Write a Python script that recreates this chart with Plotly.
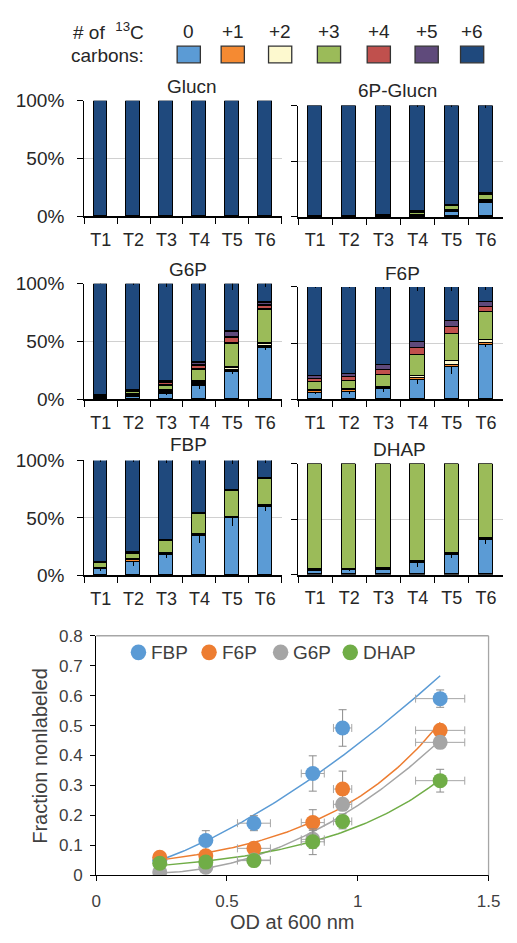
import numpy as np
import plotly.graph_objects as go

W, H = 517, 943
FONT = "Liberation Sans, Arial, sans-serif"

# ---- shared data ----
times = ["T1", "T2", "T3", "T4", "T5", "T6"]
iso_labels = ["0", "+1", "+2", "+3", "+4", "+5", "+6"]
iso_colors = ["#5B9BD5", "#F58A32", "#FDF9CF", "#9BBB59", "#C0504D", "#5F4A7B", "#1F497D"]
pct_ticks = ["0%", "50%", "100%"]

# optical density at each sampling time (mean and spread)
od600 = [0.243, 0.419, 0.603, 0.828, 0.942, 1.315]
od600_err = [0.010, 0.020, 0.063, 0.044, 0.035, 0.094]

# unlabeled (M+0) percentage per metabolite and its spread
fbp_m0 = [5.0, 11.6, 17.4, 34.0, 49.2, 59.0]
f6p_m0 = [6.0, 6.5, 9.0, 17.6, 28.8, 48.4]
g6p_m0 = [1.1, 2.7, 5.1, 12.0, 23.7, 44.4]
dhap_m0 = [4.0, 4.4, 4.9, 11.2, 18.0, 31.6]
fbp_m0_err = [1.0, 3.3, 2.5, 5.9, 6.1, 2.9]
f6p_m0_err = [1.0, 1.5, 2.0, 4.3, 6.0, 2.0]
g6p_m0_err = [1.0, 1.0, 1.5, 3.0, 2.0, 2.0]
dhap_m0_err = [0.5, 1.0, 1.0, 4.3, 2.5, 3.8]

# isotopologue distributions (percent), rows: M+0 ... M+6
glucn_dist = [
    [0, 0, 0, 0, 0, 0],
    [0, 0, 0, 0, 0, 0],
    [0, 0, 0, 0, 0, 0],
    [0, 0, 0, 0, 0, 0],
    [0, 0, 0, 0, 0, 0],
    [0, 0, 0, 0, 0, 0],
    [100, 100, 100, 100, 100, 100],
]
glucn6p_dist = [
    [0, 0, 0.5, 1.0, 4.5, 13.0],
    [0, 0, 0.2, 0.3, 0.5, 0.8],
    [0, 0, 0.2, 0.3, 0.5, 1.2],
    [0, 0, 0.5, 2.5, 4.5, 5.0],
    [0, 0, 0, 0.2, 0.3, 0.5],
    [0, 0, 0, 0.2, 0.2, 0.5],
    [100, 100, 98.6, 95.5, 89.5, 79.0],
]
g6p_dist = [
    g6p_m0,
    [0.3, 0.5, 1.0, 1.5, 1.5, 1.5],
    [0.3, 0.5, 1.5, 2.0, 2.0, 2.5],
    [1.0, 2.5, 4.5, 10.5, 21.0, 29.0],
    [0.4, 0.5, 2.0, 3.0, 5.0, 4.0],
    [0.4, 0.5, 1.5, 3.0, 5.0, 2.5],
    [96.5, 92.8, 84.4, 68.0, 41.8, 16.1],
]
f6p_dist = [
    f6p_m0,
    [1.5, 1.5, 1.5, 1.5, 2.0, 1.5],
    [1.0, 1.5, 1.0, 2.0, 3.0, 3.0],
    [7.0, 7.0, 10.5, 18.5, 24.0, 25.0],
    [3.0, 3.5, 4.0, 6.0, 6.5, 4.5],
    [2.0, 3.0, 5.0, 5.5, 5.5, 4.0],
    [79.5, 77.0, 69.0, 48.9, 30.2, 13.6],
]
fbp_dist = [
    fbp_m0,
    [0.5, 1.0, 1.0, 1.0, 1.0, 1.0],
    [0.5, 1.0, 0.5, 0.5, 0.5, 0.5],
    [4.5, 5.0, 10.5, 17.5, 22.0, 23.0],
    [0.5, 0.5, 0.5, 0.5, 0.5, 0.5],
    [0.5, 0.5, 0.3, 0.3, 0.3, 0.3],
    [88.5, 80.4, 69.8, 46.2, 26.5, 15.7],
]
dhap_dist = [
    dhap_m0,
    [0.3, 0.3, 0.3, 0.3, 0.3, 0.3],
    [0.3, 0.3, 0.3, 0.3, 0.3, 0.3],
    [95.4, 95.0, 94.5, 88.2, 81.4, 67.8],
    [0, 0, 0, 0, 0, 0],
    [0, 0, 0, 0, 0, 0],
    [0, 0, 0, 0, 0, 0],
]
# spread of the fully labeled (M+6) fraction
glucn6p_m6_err = [0, 0, 0.5, 1.0, 1.5, 2.0]
g6p_m6_err = [0.5, 1.0, 3.0, 5.0, 5.0, 3.0]
f6p_m6_err = [1.0, 1.0, 2.0, 4.0, 4.0, 3.0]
fbp_m6_err = [1.0, 1.5, 2.0, 3.0, 3.5, 2.0]

panels = [
    # name, distribution, M0 err, M6 err, x0, x1, y(100%), y(0%) in px
    ("Glucn", glucn_dist, None, None, 82, 286, 92.7, 211.0),
    ("6P-Glucn", glucn6p_dist, None, glucn6p_m6_err, 303, 515, 97.7, 211.7),
    ("G6P", g6p_dist, g6p_m0_err, g6p_m6_err, 82, 286, 280.0, 398.3),
    ("F6P", f6p_dist, f6p_m0_err, f6p_m6_err, 303, 515, 283.3, 398.3),
    ("FBP", fbp_dist, fbp_m0_err, fbp_m6_err, 82, 286, 460.7, 578.3),
    ("DHAP", dhap_dist, dhap_m0_err, None, 303, 515, 464.0, 577.7),
]
title_pos = [(193, 78), (406, 82), (189, 265), (411, 270), (190, 444), (408, 450)]


def px_x(v):
    return v / W


def px_y(v):
    return 1 - v / H


fig = go.Figure()
layout_axes = {}
annotations = []
shapes = []

for i, (name, dist, m0_err, m6_err, x0, x1, ytop, ybot) in enumerate(panels):
    n = i + 1
    xa, ya = f"x{n}", f"y{n}"
    for k in range(7):
        err = None
        if k == 0 and m0_err is not None:
            err = dict(type="data", array=m0_err, color="black", thickness=1, width=0)
        if k == 6 and m6_err is not None:
            err = dict(type="data", array=m6_err, color="black", thickness=1, width=0)
        fig.add_trace(go.Bar(
            x=times, y=dist[k], xaxis=xa, yaxis=ya, width=0.42,
            marker=dict(color=iso_colors[k], line=dict(color="black", width=1.3)),
            error_y=err, showlegend=False, hoverinfo="skip",
        ))
    left = (x0 < 200)
    layout_axes[f"xaxis{n}"] = dict(
        domain=[px_x(x0), px_x(x1)], anchor=ya, type="category",
        range=[-0.5, 5.5], tickson="boundaries", ticks="outside", ticklen=6,
        tickwidth=1.3, tickcolor="black", showline=True, linecolor="black",
        linewidth=1.5, showgrid=False, ticklabelstandoff=6,
        tickfont=dict(family=FONT, size=18, color="#262626"),
    )
    layout_axes[f"yaxis{n}"] = dict(
        domain=[px_y(ybot), px_y(ytop)], anchor=xa, range=[0, 100],
        tickmode="array", tickvals=[0, 50, 100], ticktext=pct_ticks,
        showticklabels=left, ticklabelstandoff=9,
        ticks="outside", ticklen=6, tickwidth=1.3, tickcolor="black",
        showline=True, linecolor="black", linewidth=1.3,
        showgrid=True, gridcolor="#D0D0D0", gridwidth=1, zeroline=False,
        tickfont=dict(family=FONT, size=19, color="#262626"),
    )
    tx, ty = title_pos[i]
    annotations.append(dict(
        x=px_x(tx), y=px_y(ty), xref="paper", yref="paper", text=name,
        showarrow=False, xanchor="center", yanchor="middle",
        font=dict(family=FONT, size=19, color="#262626"),
    ))

# ---- isotopologue key at the top ----
annotations.append(dict(
    x=px_x(146), y=px_y(21), xref="paper", yref="paper",
    text="# of  <sup>13</sup>C", showarrow=False, xanchor="right", yanchor="middle",
    font=dict(family=FONT, size=19, color="#262626"),
))
annotations.append(dict(
    x=px_x(146), y=px_y(47), xref="paper", yref="paper",
    text="carbons:", showarrow=False, xanchor="right", yanchor="middle",
    font=dict(family=FONT, size=19, color="#262626"),
))
key_x = [190, 235.5, 284.5, 335, 386.5, 436, 483]
for lab, col, cx in zip(iso_labels, iso_colors, key_x):
    annotations.append(dict(
        x=px_x(cx), y=px_y(22), xref="paper", yref="paper", text=lab,
        showarrow=False, xanchor="center", yanchor="middle",
        font=dict(family=FONT, size=19, color="#262626"),
    ))
    shapes.append(dict(
        type="rect", xref="paper", yref="paper",
        x0=px_x(cx - 12), x1=px_x(cx + 12), y0=px_y(54), y1=px_y(37),
        fillcolor=col, line=dict(color="#333333", width=1.3),
    ))

# ---- labeling dynamics vs OD ----
series = [
    ("FBP", fbp_m0, fbp_m0_err, "#5B9BD5", "power"),
    ("F6P", f6p_m0, f6p_m0_err, "#ED7D31", "exp"),
    ("G6P", g6p_m0, g6p_m0_err, "#A5A5A5", "poly"),
    ("DHAP", dhap_m0, dhap_m0_err, "#70AD47", "exp"),
]
xs = np.array(od600)
xfit = np.linspace(xs.min(), xs.max(), 100)
for name, m0, m0_err, col, kind in series:
    ys = np.array(m0) / 100.0
    if kind == "power":
        b, lna = np.polyfit(np.log(xs), np.log(ys), 1)
        yfit = np.exp(lna) * xfit ** b
    elif kind == "exp":
        b, lna = np.polyfit(xs, np.log(ys), 1)
        yfit = np.exp(lna + b * xfit)
    else:
        yfit = np.polyval(np.polyfit(xs, ys, 2), xfit)
    fig.add_trace(go.Scatter(
        x=xfit, y=yfit, mode="lines", xaxis="x7", yaxis="y7",
        line=dict(color=col, width=1.5), showlegend=False, hoverinfo="skip",
    ))
for name, m0, m0_err, col, kind in series:
    fig.add_trace(go.Scatter(
        x=od600, y=np.array(m0) / 100.0, mode="markers", name=name,
        xaxis="x7", yaxis="y7", showlegend=False,
        marker=dict(color=col, size=15),
        error_y=dict(type="data", array=np.array(m0_err) / 100.0, color="#8C8C8C", thickness=1, width=4),
        error_x=dict(type="data", array=od600_err, color="#A6A6A6", thickness=1, width=4),
    ))

# series key inside the plot area
key_pos = [138, 211, 285, 357]
for (name, m0, m0_err, col, kind), kx in zip(series, key_pos):
    shapes.append(dict(
        type="circle", xref="paper", yref="paper",
        x0=px_x(kx - 8), x1=px_x(kx + 8), y0=px_y(665), y1=px_y(649),
        fillcolor=col, line=dict(width=0),
    ))
    annotations.append(dict(
        x=px_x(kx + 11), y=px_y(657), xref="paper", yref="paper", text=name,
        showarrow=False, xanchor="left", yanchor="middle",
        font=dict(family=FONT, size=19, color="#404040"),
    ))

sx0, sx1, sytop, sybot = 94.3, 500.0, 640.0, 885.0
layout_axes["xaxis7"] = dict(
    domain=[px_x(sx0), px_x(sx1)], anchor="y7", range=[0, 1.5], dtick=0.5,
    ticks="outside", ticklen=5, tickcolor="black", showline=True, linecolor="black",
    linewidth=1.3, showgrid=False, zeroline=False, ticklabelstandoff=5,
    tickfont=dict(family=FONT, size=17, color="#404040"),
)
layout_axes["yaxis7"] = dict(
    domain=[px_y(sybot), px_y(sytop)], anchor="x7", range=[0, 0.8], dtick=0.1,
    ticks="outside", ticklen=5, tickcolor="black", showline=True, linecolor="black",
    linewidth=1.3, showgrid=False, zeroline=False, ticklabelstandoff=4,
    tickfont=dict(family=FONT, size=17, color="#404040"),
)
# plot-area frame (top and right edges)
shapes.append(dict(type="line", xref="paper", yref="paper",
                   x0=px_x(sx0), x1=px_x(sx1), y0=px_y(sytop), y1=px_y(sytop),
                   line=dict(color="#A6A6A6", width=1.3)))
shapes.append(dict(type="line", xref="paper", yref="paper",
                   x0=px_x(sx1), x1=px_x(sx1), y0=px_y(sytop), y1=px_y(sybot),
                   line=dict(color="#A6A6A6", width=1.3)))
annotations.append(dict(
    x=px_x(297), y=px_y(933), xref="paper", yref="paper", text="OD at 600 nm",
    showarrow=False, xanchor="center", yanchor="middle",
    font=dict(family=FONT, size=20, color="#404040"),
))
annotations.append(dict(
    x=px_x(36), y=px_y(763), xref="paper", yref="paper", text="Fraction nonlabeled",
    showarrow=False, xanchor="center", yanchor="middle", textangle=-90,
    font=dict(family=FONT, size=20, color="#404040"),
))

fig.update_layout(
    width=W, height=H, margin=dict(l=0, r=0, t=0, b=0),
    paper_bgcolor="white", plot_bgcolor="white",
    barmode="stack", bargap=0.0, showlegend=False,
    annotations=annotations, shapes=shapes,
    **layout_axes,
)

fig.write_html("out.html")
